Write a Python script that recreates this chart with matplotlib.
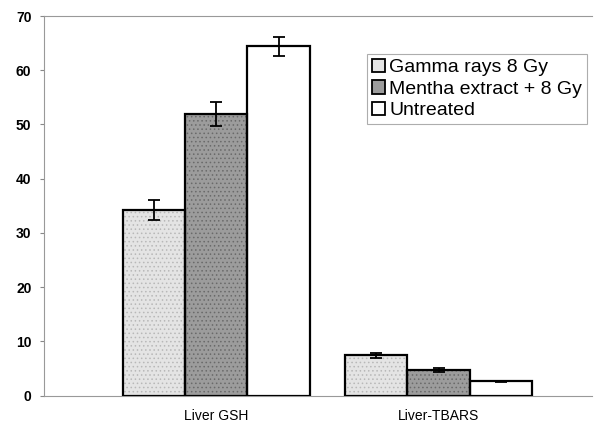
import matplotlib
matplotlib.use("Agg")
import matplotlib.pyplot as plt
import numpy as np

categories = ["Liver GSH", "Liver-TBARS"]
series = ["Gamma rays 8 Gy", "Mentha extract + 8 Gy", "Untreated"]
gamma = [34.2, 7.4]
gamma_err = [1.8, 0.4]
mentha = [52.0, 4.7]
mentha_err = [2.2, 0.3]
untreated = [64.4, 2.6]
untreated_err = [1.7, 0.1]

values = [gamma, mentha, untreated]
errors = [gamma_err, mentha_err, untreated_err]
fills = ["#e4e4e4", "#9c9c9c", "white"]
hatch_cols = ["#b8b8b8", "#6a6a6a", "white"]

plt.rcParams['font.family'] = ['Liberation Sans', 'DejaVu Sans']
plt.rcParams['hatch.linewidth'] = 0.6

fig = plt.figure(figsize=(5.95, 4.24), dpi=100)
ax = fig.add_axes([44 / 595, 1 - 395.5 / 424, 548 / 595, 379.5 / 424])

x = np.arange(len(categories))
w = 0.28
for i in range(3):
    pos = x + (i - 1) * w
    # texture first, then the outline on top
    ax.bar(pos, values[i], w, color=fills[i], edgecolor=hatch_cols[i],
           linewidth=0, hatch='....' if i < 2 else None, zorder=2)
    ax.bar(pos, values[i], w, facecolor='none', edgecolor='black',
           linewidth=1.6, zorder=3)
    ax.errorbar(pos, values[i], yerr=errors[i], fmt='none', ecolor='black',
                elinewidth=1.3, capsize=4, capthick=1.3, zorder=4)

# legend handles
handles = [plt.Rectangle((0, 0), 1, 1, facecolor=fills[i], edgecolor='black',
                         linewidth=1.3) for i in range(3)]
leg = ax.legend(handles, series, loc='upper left',
                bbox_to_anchor=(323 / 548, 1 - 38 / 379.5),
                fontsize=14, frameon=True, fancybox=False,
                handlelength=0.7, handleheight=0.7, handletextpad=0.2,
                borderpad=0.25, labelspacing=0.2, borderaxespad=0)
leg.get_frame().set_edgecolor('#999999')
leg.get_frame().set_linewidth(0.8)

ax.set_xlim(-0.775, 1.69)
ax.set_ylim(0, 70)
ax.set_yticks(range(0, 71, 10))
ax.set_xticks(x)
ax.set_xticklabels(categories)
ax.tick_params(axis='y', labelsize=10, length=3, color='#888888', pad=6)
ax.tick_params(axis='x', labelsize=10, length=0, pad=10)
for lab in ax.get_yticklabels():
    lab.set_fontweight('bold')

for s in ['left', 'bottom', 'top']:
    ax.spines[s].set_color('#999999')
    ax.spines[s].set_linewidth(0.8)
ax.spines['right'].set_visible(False)

fig.savefig("out.png", dpi=100)
